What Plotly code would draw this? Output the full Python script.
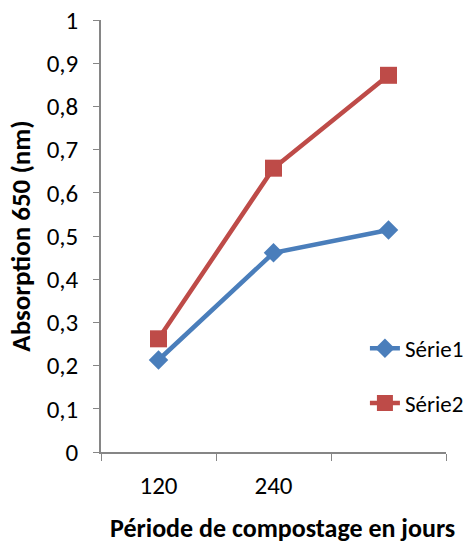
import plotly.graph_objects as go

categories = ["120", "240", " "]
serie1 = [0.213, 0.461, 0.514]
serie2 = [0.262, 0.657, 0.872]
y_ticks = [0, 0.1, 0.2, 0.3, 0.4, 0.5, 0.6, 0.7, 0.8, 0.9, 1]
y_labels = ["0", "0,1", "0,2", "0,3", "0,4", "0,5", "0,6", "0,7", "0,8", "0,9", "1"]

font_family = "Carlito, Calibri, Lato, sans-serif"

fig = go.Figure()
fig.add_trace(go.Scatter(
    x=categories, y=serie1, name="Série1", mode="lines+markers",
    line=dict(color="#4A7EBB", width=4.5),
    marker=dict(symbol="diamond", size=15, color="#4A7EBB"),
    legendgroup="a",
))
fig.add_trace(go.Scatter(
    x=categories, y=serie2, name="Série2", mode="lines+markers",
    line=dict(color="#BE4B48", width=4.5),
    marker=dict(symbol="square", size=17, color="#BE4B48"),
    legendgroup="b",
))

fig.update_layout(
    width=469, height=543,
    margin=dict(l=101, r=23, t=20, b=91, autoexpand=False),
    paper_bgcolor="white", plot_bgcolor="white",
    font=dict(family=font_family, size=25, color="black"),
    showlegend=True,
    legend=dict(
        x=0.765, y=0.29, xanchor="left", yanchor="top",
        bgcolor="rgba(0,0,0,0)", traceorder="grouped", tracegroupgap=22,
        font=dict(size=23), itemwidth=30,
    ),
    xaxis=dict(
        type="category", range=[-0.5, 2.5], automargin=False,
        showline=True, linecolor="#868686", linewidth=1.5,
        ticks="outside", tickson="boundaries", ticklen=7, tickcolor="#868686",
        showgrid=False, zeroline=False,
        tickfont=dict(size=25), ticklabelstandoff=10,
    ),
    yaxis=dict(
        range=[0, 1], tickvals=y_ticks, ticktext=y_labels, automargin=False,
        showline=True, linecolor="#868686", linewidth=1.5,
        ticks="outside", ticklen=6, tickcolor="#868686",
        showgrid=False, zeroline=False,
        tickfont=dict(size=25), ticklabelstandoff=10,
        title=dict(text="<b>Absorption 650 (nm)</b>", font=dict(size=27), standoff=8),
    ),
    annotations=[dict(
        text="<b>Période de compostage en jours</b>",
        xref="paper", yref="paper", x=0.525, y=-0.176,
        xanchor="center", yanchor="middle", showarrow=False,
        font=dict(size=26),
    )],
)

fig.write_html("out.html")
